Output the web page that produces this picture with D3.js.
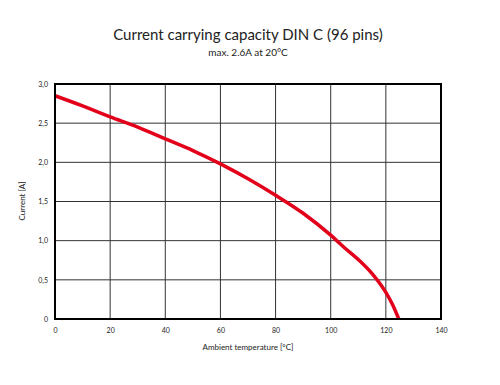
<!DOCTYPE html>
<html>
<head>
<meta charset="utf-8">
<script src="https://cdn.jsdelivr.net/npm/d3@7"></script>
<style>
  body { margin: 0; background: #fff; }
  text { font-family: Lato, "Open Sans", sans-serif; fill: #222; }
</style>
</head>
<body>
<svg id="chart" width="500" height="385"></svg>
<script>
const temps = [0, 10, 20, 30, 40, 50, 60, 70, 80, 90, 100, 105, 110, 115, 120, 122.5, 124.7];
const current = [2.85, 2.72, 2.58, 2.45, 2.30, 2.15, 1.98, 1.79, 1.58, 1.35, 1.07, 0.91, 0.76, 0.58, 0.34, 0.18, 0];
const xTicks = [0, 20, 40, 60, 80, 100, 120, 140];
const yTicks = [0, 0.5, 1, 1.5, 2, 2.5, 3];

const PAD = { left: 55, right: 60, top: 84, bottom: 66 };

const svg = d3.select('#chart');
const W = 500, H = 385;

const x = d3.scaleLinear().domain([0, 140]).range([PAD.left, W - PAD.right + 1]);
const y = d3.scaleLinear().domain([0, 3]).range([H - PAD.bottom, PAD.top]);

// titles
svg.append('text')
  .attr('x', 248).attr('y', 40)
  .attr('text-anchor', 'middle')
  .style('font-size', '15px')
  .text('Current carrying capacity DIN C (96 pins)');

svg.append('text')
  .attr('x', 248).attr('y', 56)
  .attr('text-anchor', 'middle')
  .style('font-size', '10px')
  .text('max. 2.6A at 20°C');

// grid
svg.append('g')
  .attr('class', 'grid-x')
  .selectAll('line')
  .data(xTicks.slice(1, -1))
  .enter()
  .append('line')
  .attr('x1', d => x(d)).attr('x2', d => x(d))
  .attr('y1', y(0)).attr('y2', y(3))
  .attr('stroke', '#333').attr('stroke-width', 1);

svg.append('g')
  .attr('class', 'grid-y')
  .selectAll('line')
  .data(yTicks.slice(1, -1))
  .enter()
  .append('line')
  .attr('x1', x(0)).attr('x2', x(140))
  .attr('y1', d => y(d)).attr('y2', d => y(d))
  .attr('stroke', '#333').attr('stroke-width', 1);

// axes (labels only)
const axisX = d3.axisBottom(x)
  .tickValues(xTicks)
  .tickSize(0)
  .tickPadding(9)
  .tickFormat(d => d);

const axisY = d3.axisLeft(y)
  .tickValues(yTicks)
  .tickSize(0)
  .tickPadding(7)
  .tickFormat(d => d === 0 ? '0' : d3.format('.1f')(d).replace('.', ','));

svg.append('g')
  .attr('transform', 'translate(0,' + y(0) + ')')
  .call(axisX)
  .call(g => g.select('.domain').remove())
  .selectAll('text')
  .style('font-size', '7px')
  .style('fill', '#222');

svg.append('g')
  .attr('transform', 'translate(' + x(0) + ',0)')
  .call(axisY)
  .call(g => g.select('.domain').remove())
  .selectAll('text')
  .style('font-size', '7px')
  .style('fill', '#222');

// curve
const line = d3.line()
  .x((d, i) => x(temps[i]))
  .y(d => y(d))
  .curve(d3.curveMonotoneX);

svg.append('path')
  .datum(current)
  .attr('fill', 'none')
  .attr('stroke', '#e3001b')
  .attr('stroke-width', 3.5)
  .attr('d', line);

// frame
svg.append('rect')
  .attr('x', x(0)).attr('y', y(3))
  .attr('width', x(140) - x(0))
  .attr('height', y(0) - y(3))
  .attr('fill', 'none')
  .attr('stroke', '#000')
  .attr('stroke-width', 2);

// axis titles
svg.append('text')
  .attr('x', 248).attr('y', 350)
  .attr('text-anchor', 'middle')
  .style('font-size', '8px')
  .text('Ambient temperature [°C]');

svg.append('text')
  .attr('transform', 'translate(25,' + 201 + ') rotate(-90)')
  .attr('text-anchor', 'middle')
  .style('font-size', '8px')
  .text('Current [A]');
</script>
</body>
</html>
